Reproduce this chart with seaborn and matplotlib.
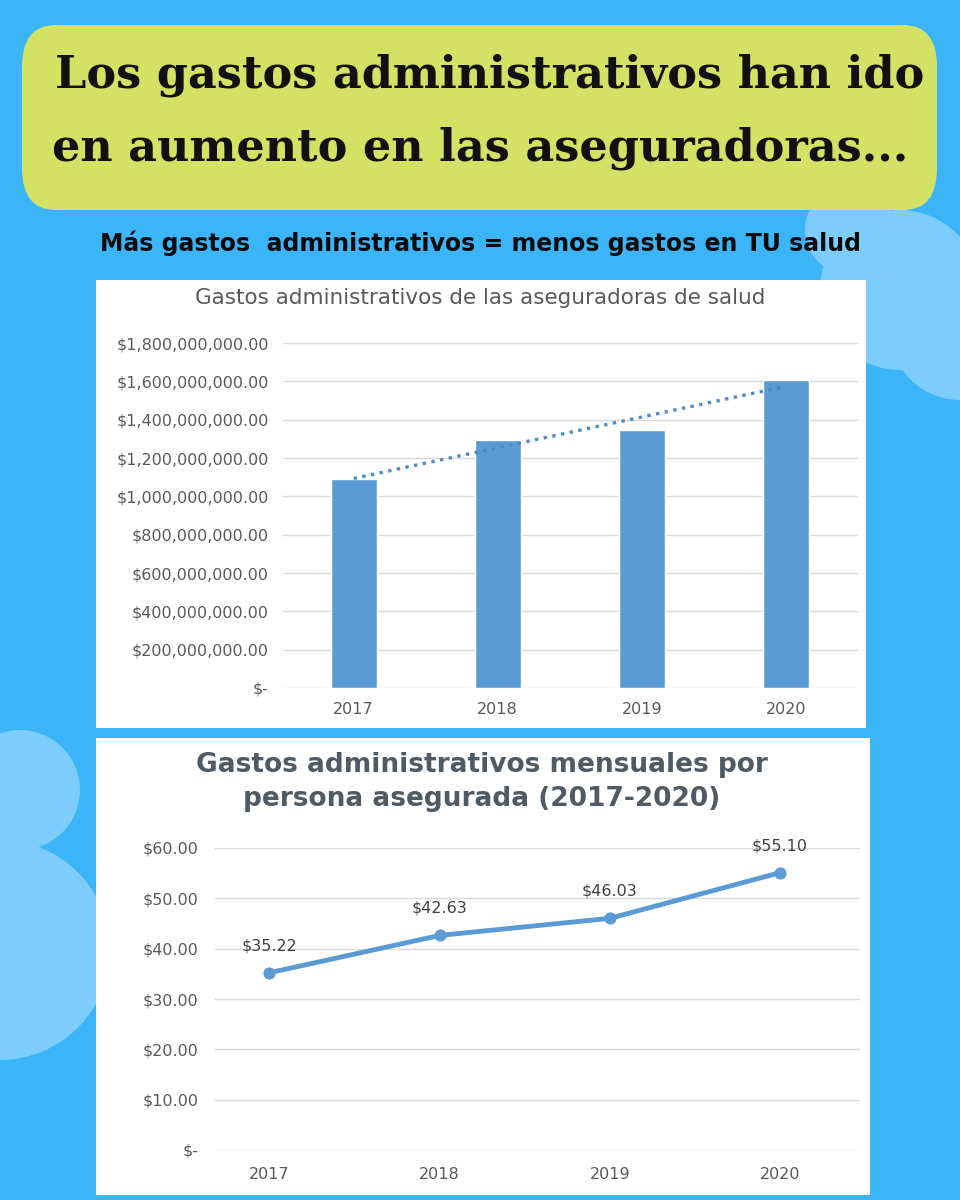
import matplotlib
matplotlib.use("Agg")
import matplotlib.pyplot as plt
import seaborn as sns
import numpy as np
import pandas as pd
from matplotlib.patches import FancyBboxPatch, Rectangle, Ellipse

years = ["2017", "2018", "2019", "2020"]
gastos_totales = [1.089e9, 1.294e9, 1.346e9, 1.606e9]
gastos_mensuales = [35.22, 42.63, 46.03, 55.10]
bar_ticks = [0, 2e8, 4e8, 6e8, 8e8, 1e9, 1.2e9, 1.4e9, 1.6e9, 1.8e9]
line_ticks = [0, 10, 20, 30, 40, 50, 60]

sns.set_theme(style="white")
plt.rcParams['font.family'] = ['DejaVu Sans']
W, H = 960, 1200
fig = plt.figure(figsize=(9.6, 12), dpi=100)
fig.patch.set_facecolor("#3BB4F8")

def fx(x): return x / W
def fy(y): return 1 - y / H

# decorative clouds (mostly hidden behind panels)
for (cx, cy, r) in [(900, 290, 80), (960, 330, 70), (850, 230, 45), (20, 790, 60), (0, 950, 110)]:
    fig.patches.append(Ellipse((fx(cx), fy(cy)), 2 * r / W, 2 * r / H, transform=fig.transFigure,
                               facecolor="#7CCDFB", edgecolor="none", zorder=0))

# title box
fig.patches.append(FancyBboxPatch((fx(22), fy(210)), fx(915), (185) / H,
                                  boxstyle="round,pad=0,rounding_size=0.035",
                                  transform=fig.transFigure, facecolor="#D3E265",
                                  edgecolor="none", zorder=1))
fig.text(fx(490), fy(75), "Los gastos administrativos han ido", ha="center", va="center",
         fontsize=32, family="DejaVu Serif", fontweight="semibold", color="#111111", zorder=2)
fig.text(fx(480), fy(148), "en aumento en las aseguradoras...", ha="center", va="center",
         fontsize=32, family="DejaVu Serif", fontweight="semibold", color="#111111", zorder=2)
fig.text(fx(480), fy(243), "Más gastos  administrativos = menos gastos en TU salud",
         ha="center", va="center", fontsize=17, fontweight="bold", color="#0a0a0a")

# white panels
fig.patches.append(Rectangle((fx(96), fy(728)), fx(770), 448 / H, transform=fig.transFigure,
                             facecolor="white", edgecolor="none", zorder=1))
fig.patches.append(Rectangle((fx(96), fy(1195)), fx(774), 457 / H, transform=fig.transFigure,
                             facecolor="white", edgecolor="none", zorder=1))

blue = "#5B9BD5"
grid = "#D9D9D9"
tick_c = "#595959"

# bar chart
ax1 = fig.add_axes([fx(283), fy(688), fx(575), (688 - 343) / H])
ax1.set_zorder(3)
df1 = pd.DataFrame({"year": years, "gastos": gastos_totales})
sns.barplot(data=df1, x="year", y="gastos", color=blue, width=0.32, ax=ax1, saturation=1)
xs = np.arange(len(years))
coef = np.polyfit(xs, gastos_totales, 1)
ax1.plot(xs, np.polyval(coef, xs), linestyle=":", color="#4A8CC4", lw=2.4)
ax1.set_ylim(0, 1.8e9)
ax1.set_xlim(-0.49, 3.5)
ax1.set_yticks(bar_ticks)
ax1.set_yticklabels(["$-" if v == 0 else f"${v:,.2f}" for v in bar_ticks])
ax1.yaxis.grid(True, color=grid, lw=1)
ax1.set_axisbelow(True)
for s in ax1.spines.values(): s.set_visible(False)
ax1.set_xlabel(""); ax1.set_ylabel("")
ax1.tick_params(axis="both", colors=tick_c, labelsize=11.5, length=0, pad=10)
ax1.set_facecolor("none")
fig.text(fx(480), fy(298), "Gastos administrativos de las aseguradoras de salud",
         ha="center", va="center", fontsize=15.5, color="#595959", zorder=4)

# line chart
ax2 = fig.add_axes([fx(215), fy(1150), fx(645), (1150 - 848) / H])
ax2.set_zorder(3)
df2 = pd.DataFrame({"year": years, "gasto": gastos_mensuales})
sns.lineplot(data=df2, x="year", y="gasto", color=blue, lw=3.5, marker="o",
             markersize=8, markeredgecolor=blue, ax=ax2)
for i, v in enumerate(gastos_mensuales):
    ax2.annotate(f"${v:.2f}", (i, v), textcoords="offset points", xytext=(0, 14),
                 ha="center", va="bottom", fontsize=11.5, color="#404040")
ax2.set_xlim(-0.32, 3.47)
ax2.set_ylim(0, 60)
ax2.set_yticks(line_ticks)
ax2.set_yticklabels(["$-" if v == 0 else f"${v:.2f}" for v in line_ticks])
ax2.yaxis.grid(True, color=grid, lw=1)
for s in ax2.spines.values(): s.set_visible(False)
ax2.set_xlabel(""); ax2.set_ylabel("")
ax2.tick_params(axis="both", colors=tick_c, labelsize=11.5, length=0, pad=12)
ax2.set_facecolor("none")
fig.text(fx(482), fy(782), "Gastos administrativos mensuales por\npersona asegurada (2017-2020)",
         ha="center", va="center", fontsize=19, fontweight="bold", color="#505A64",
         linespacing=1.45, zorder=4)

fig.savefig("out.png", dpi=100, facecolor=fig.get_facecolor())
